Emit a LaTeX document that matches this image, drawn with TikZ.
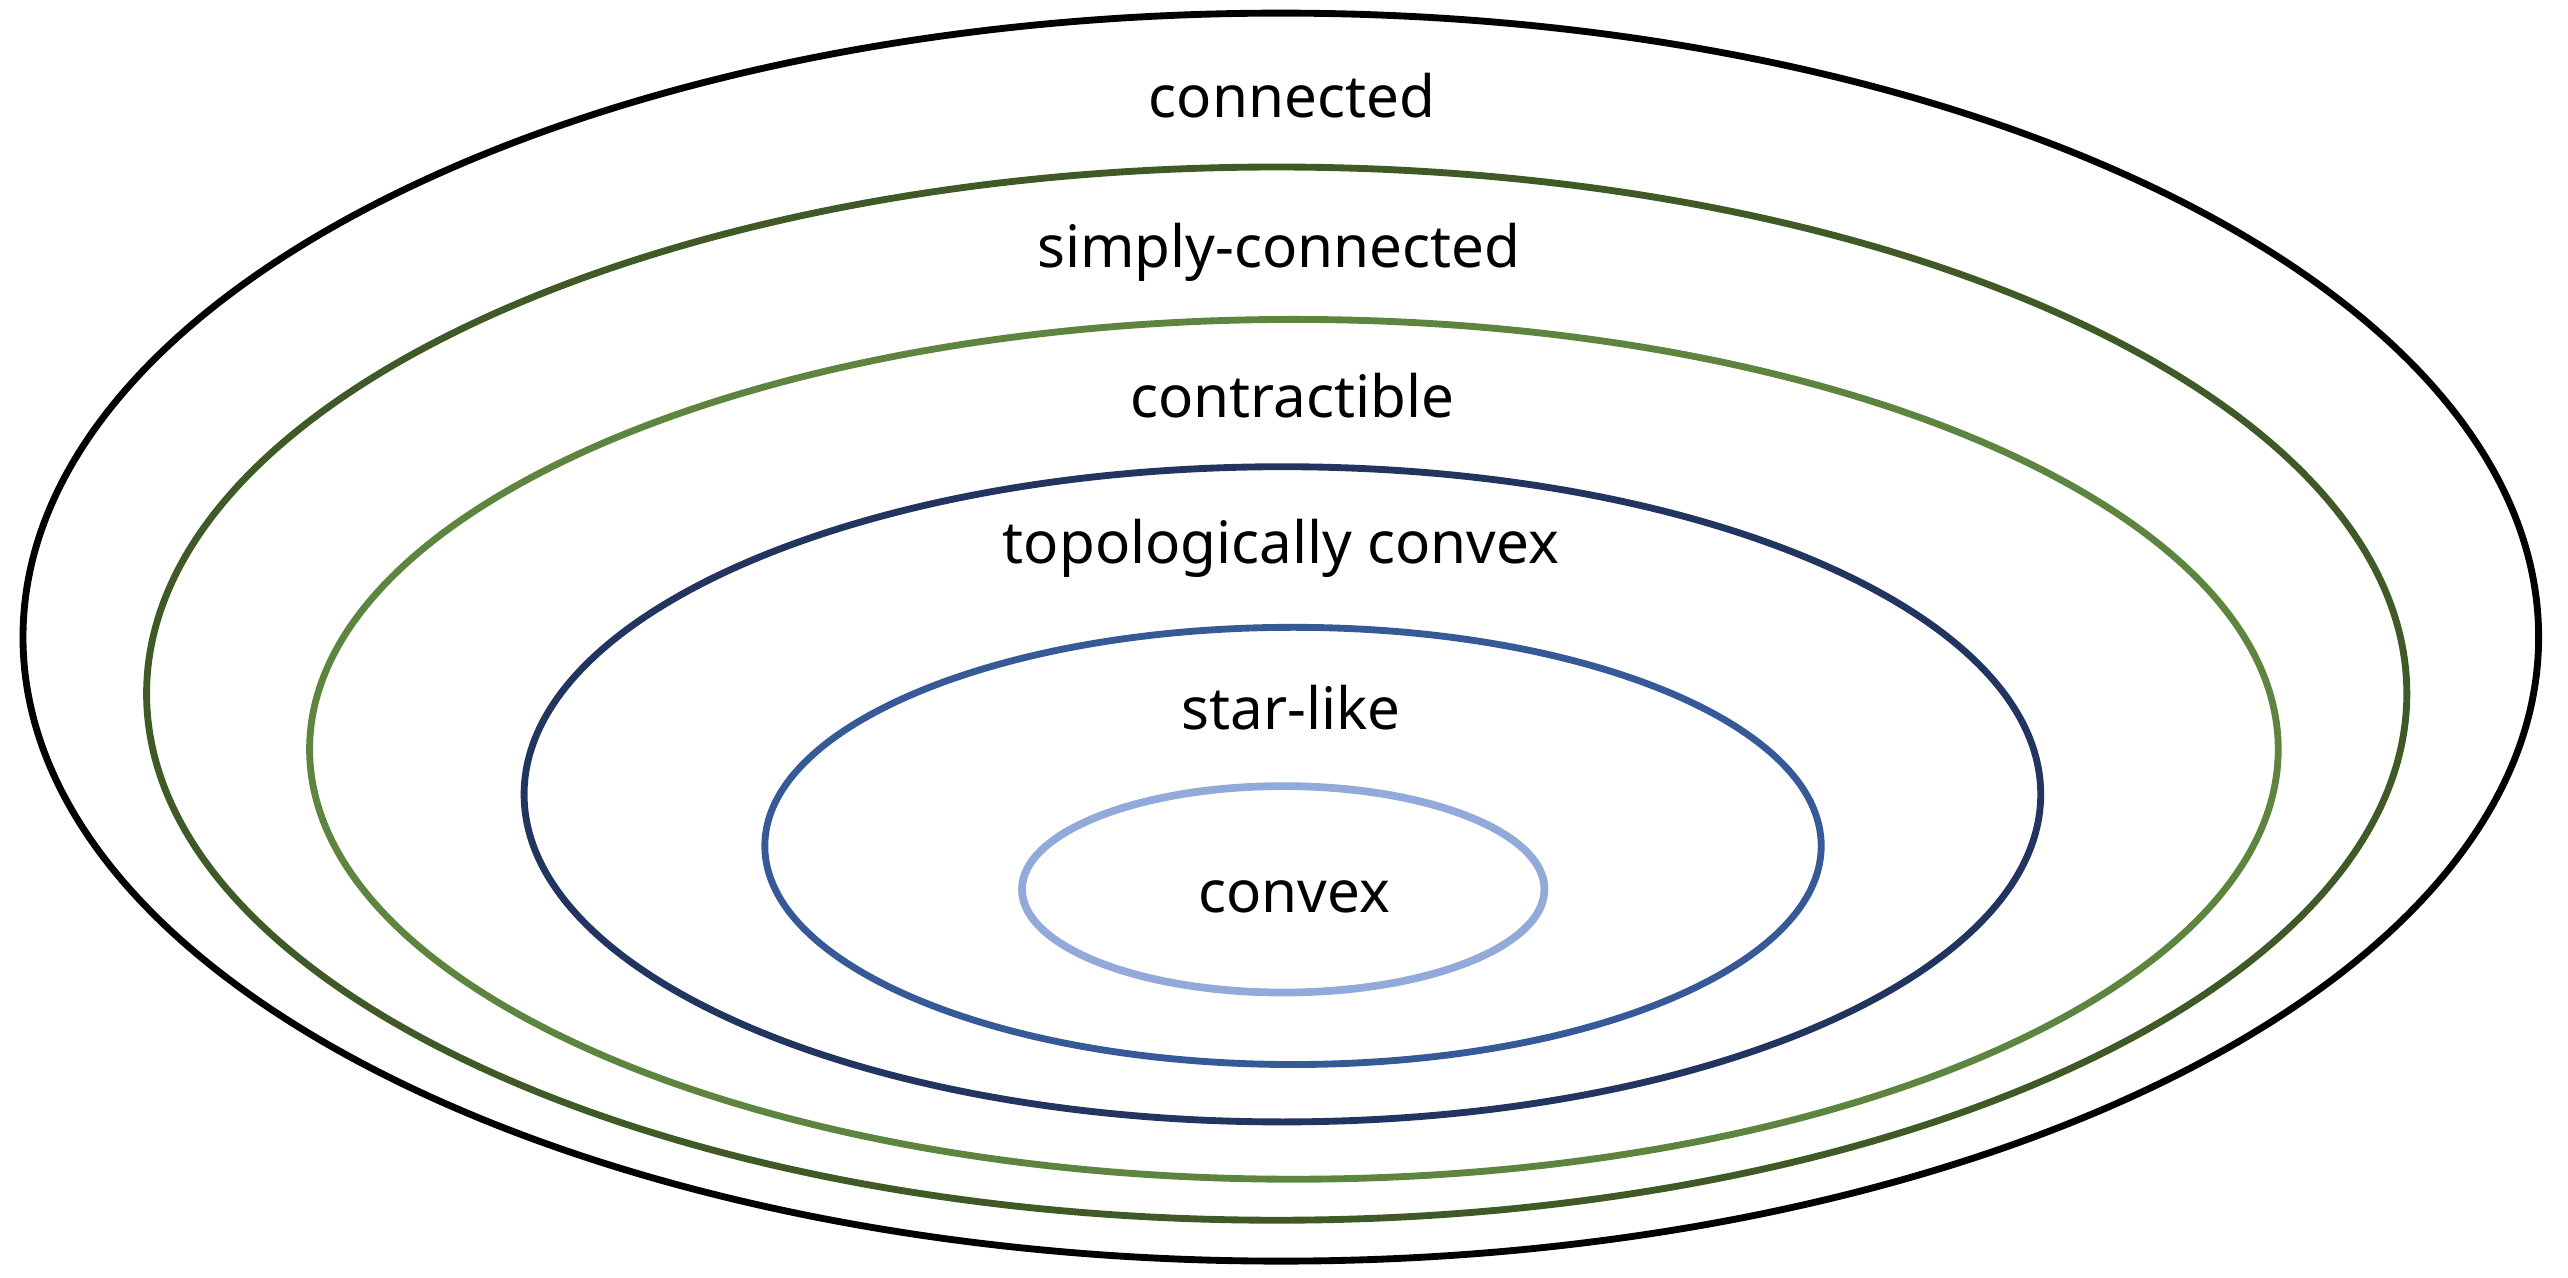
\documentclass[tikz,border=0pt]{standalone}
\usepackage{fontspec}
\setmainfont{Noto Sans}
\definecolor{cBlack}{HTML}{000000}
\definecolor{cDarkGreen}{HTML}{3F5A27}
\definecolor{cGreen}{HTML}{5E853F}
\definecolor{cNavy}{HTML}{223561}
\definecolor{cBlue}{HTML}{365A98}
\definecolor{cLight}{HTML}{91AADA}
\begin{document}
\begin{tikzpicture}[x=0.1mm,y=-0.1mm,
  ring/.style={line width=1.95pt},
  lbl/.style={anchor=base,inner sep=0pt,font=\fontsize{16.6}{19}\selectfont}]
\useasboundingbox[fill=white] (0,0) rectangle (2568,1277);
\draw[ring,cBlack] (1280.8,637.1) ellipse [x radius=1257.8,y radius=624.0];
\draw[ring,cDarkGreen] (1276.7,693.6) ellipse [x radius=1130.1,y radius=526.6];
\draw[ring,cGreen] (1293.9,749.3) ellipse [x radius=984.3,y radius=429.9];
\draw[ring,cNavy] (1282.4,794.3) ellipse [x radius=758.3,y radius=327.6];
\draw[ring,cBlue] (1293.0,845.9) ellipse [x radius=528.2,y radius=218.6];
\draw[ring,cLight,line width=2.2pt] (1283.2,889.3) ellipse [x radius=261.2,y radius=103.2];
\node[lbl] (t1) at (1292,117) {connected};
\node[lbl] (t2) at (1279,267) {simply-connected};
\node[lbl] (t3) at (1292,417) {contractible};
\node[lbl] (t4) at (1281,563) {topologically convex};
\node[lbl] (t5) at (1291,729) {star-like};
\node[lbl] (t6) at (1294,912) {convex};
\end{tikzpicture}
\end{document}
